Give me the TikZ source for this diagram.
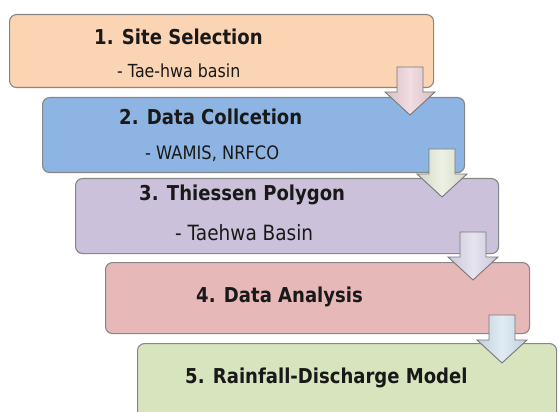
\documentclass[tikz,border=0pt]{standalone}
\usepackage{fontspec}
\setmainfont{DejaVu Sans}[FakeStretch=0.88]
\definecolor{boxborder}{RGB}{135,135,135}
\definecolor{arrowborder}{RGB}{120,120,120}
\definecolor{cA}{RGB}{251,212,180}
\definecolor{cB}{RGB}{141,180,226}
\definecolor{cC}{RGB}{204,193,218}
\definecolor{cD}{RGB}{230,185,184}
\definecolor{cE}{RGB}{215,228,190}
\definecolor{aA}{RGB}{232,200,206}
\definecolor{aB}{RGB}{224,232,210}
\definecolor{aC}{RGB}{214,210,230}
\definecolor{aD}{RGB}{204,222,236}
\definecolor{txt}{RGB}{25,25,25}
\begin{document}
\begin{tikzpicture}[x=1pt,y=-1pt,
  stepbox/.style={draw=boxborder, line width=1.1pt, rounded corners=7pt, anchor=north west, inner sep=0},
  title/.style={anchor=west, inner sep=0, text=txt, font=\fontsize{20.5}{24}\selectfont\bfseries},
  sub/.style={anchor=west, inner sep=0, text=txt},
  flow/.style={draw=arrowborder, line width=0.9pt, line join=miter}]
\useasboundingbox (0,0) rectangle (558,412);
\clip (0,0) rectangle (558,412);
% boxes
\node[stepbox, fill=cA, minimum width=424pt, minimum height=73pt] (b1) at (9,14) {};
\node[stepbox, fill=cB, minimum width=422pt, minimum height=75pt] (b2) at (42,97) {};
\node[stepbox, fill=cC, minimum width=423pt, minimum height=75pt] (b3) at (75,178) {};
\node[stepbox, fill=cD, minimum width=424pt, minimum height=71pt] (b4) at (105,262) {};
\node[stepbox, fill=cE, minimum width=419pt, minimum height=85pt] (b5) at (137,343) {};
% texts
\node[title] (t1) at (94,37) {1. Site Selection};
\node[sub, font=\fontsize{18}{22}\selectfont] (s1) at (117,71) {- Tae-hwa basin};
\node[title] (t2) at (119,117) {2. Data Collcetion};
\node[sub, font=\fontsize{18.5}{22}\selectfont] (s2) at (145,154) {- WAMIS, NRFCO};
\node[title] (t3) at (139,195) {3. Thiessen Polygon};
\node[sub, font=\fontsize{21}{25}\selectfont] (s3) at (175,233) {- Taehwa Basin};
\node[title] (t4) at (196,297) {4. Data Analysis};
\node[title] (t5) at (185,378) {5. Rainfall-Discharge Model};
% arrows
\coordinate (a1) at (410,115);
\coordinate (a2) at (442,197);
\coordinate (a3) at (473,280);
\coordinate (a4) at (502,363);
\foreach \p/\c in {a1/aA,a2/aB,a3/aC,a4/aD}{
  \draw[flow, left color=\c!85!gray, right color=\c!85!gray, middle color=\c!60!white]
    (\p) -- ++(-25,-23) -- ++(12,0) -- ++(0,-25) -- ++(26,0) -- ++(0,25) -- ++(12,0) -- cycle;
}
\end{tikzpicture}
\end{document}
